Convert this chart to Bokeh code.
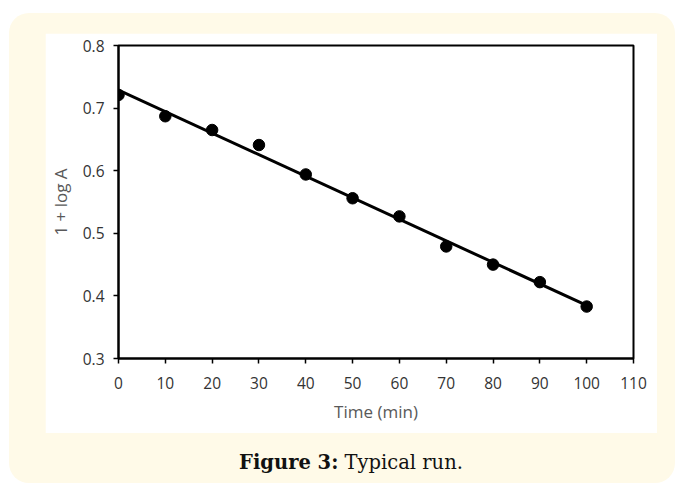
import numpy as np
from bokeh.plotting import figure
from bokeh.models import Range1d, FixedTicker, Div
from bokeh.layouts import column
from bokeh.embed import file_html
from bokeh.resources import INLINE

# ---- data ----
time_min = [0, 10, 20, 30, 40, 50, 60, 70, 80, 90, 100]
one_plus_log_a = [0.721, 0.687, 0.665, 0.641, 0.594, 0.556, 0.527, 0.479, 0.450, 0.422, 0.383]
x_ticks = [0, 10, 20, 30, 40, 50, 60, 70, 80, 90, 100, 110]
y_ticks = [0.3, 0.4, 0.5, 0.6, 0.7, 0.8]
x_title = "Time (min)"
y_title = "1 + log A"
caption_bold = "Figure 3:"
caption_rest = "Typical run."

# linear trend line (least squares fit of the points)
slope, intercept = np.polyfit(time_min, one_plus_log_a, 1)
fit_x = [time_min[0], time_min[-1]]
fit_y = [intercept + slope * x for x in fit_x]

TICK_FONT = "Open Sans"
CREAM = "#fffae8"

p = figure(width=612, height=400,
           x_range=Range1d(0, 110), y_range=Range1d(0.3, 0.8),
           output_backend="svg", toolbar_location=None,
           min_border_left=73, min_border_right=24,
           min_border_top=12, min_border_bottom=75,
           background_fill_color="white", border_fill_color="white",
           outline_line_color="black", outline_line_width=2,
           margin=(20, 0, 0, 36))
p.grid.visible = False

p.line(fit_x, fit_y, line_color="black", line_width=3)
p.scatter(time_min, one_plus_log_a, size=11.5, color="black")

for ax in (p.xaxis[0], p.yaxis[0]):
    ax.axis_line_color = "black"
    ax.axis_line_width = 2
    ax.major_tick_line_color = "black"
    ax.major_tick_line_width = 1.5
    ax.major_tick_in = 0
    ax.major_tick_out = 5
    ax.minor_tick_line_color = None
    ax.major_label_text_font = TICK_FONT
    ax.major_label_text_font_size = "15.5px"
    ax.major_label_text_color = "#333333"
    ax.axis_label_text_font = TICK_FONT
    ax.axis_label_text_font_size = "17px"
    ax.axis_label_text_font_style = "normal"
    ax.axis_label_text_color = "#595959"

p.xaxis[0].ticker = FixedTicker(ticks=x_ticks)
p.yaxis[0].ticker = FixedTicker(ticks=y_ticks)
p.xaxis[0].axis_label = x_title
p.yaxis[0].axis_label = y_title
p.xaxis[0].major_label_standoff = 13
p.yaxis[0].major_label_standoff = 9
p.xaxis[0].axis_label_standoff = 8
p.yaxis[0].axis_label_standoff = 8

caption = Div(text=f"<b>{caption_bold}</b> {caption_rest}",
              width=612, height=33, margin=(18, 0, 0, 36),
              styles={"font-family": "'DejaVu Serif', serif",
                      "font-size": "19.5px", "color": "#111111",
                      "text-align": "center", "line-height": "1.2"})

layout = column(p, caption, width=666, height=470, margin=(13, 0, 0, 9),
                styles={"background-color": CREAM, "border-radius": "20px"})

open("out.html", "w").write(file_html(layout, INLINE))
